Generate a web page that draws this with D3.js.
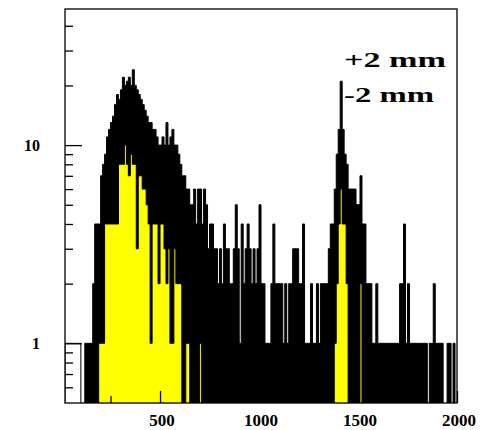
<!DOCTYPE html>
<html><head><meta charset="utf-8">
<script src="https://cdn.jsdelivr.net/npm/d3@7"></script>
<style>html,body{margin:0;padding:0;background:#fff;} svg{display:block;}</style>
</head><body>
<svg id="chart" width="492" height="430"></svg>
<script>
// ---- histogram binning (data) ----
const binLow = 20;
const binWidth = 10;
// black histogram counts, one per bin starting at binLow
const blackCounts = [
  0,0,0,0,0,0,0,0,0,0,
  1,1,1,1,2,4,4,4,7,8,
  9,11,12,13,14,16,18,17,19,22,
  20,21,22,20,24,20,19,18,17,16,
  15,14,13,13,12,12,11,10,10,11,
  10,13,10,11,12,10,10,9,8,7,
  7,6,6,5,5,6,4,6,6,4,
  6,5,3,4,4,3,3,2,3,2,
  4,3,3,2,2,3,5,3,1,4,
  2,3,4,3,2,3,2,3,5,2,
  2,1,1,1,2,4,2,2,2,2,
  1,2,1,2,2,3,3,3,2,2,
  4,1,1,1,2,1,1,2,1,2,
  2,2,2,3,4,4,6,9,12,21,
  12,9,8,6,6,6,6,5,5,7,
  4,4,2,2,2,1,1,2,1,1,
  1,1,1,1,1,1,1,1,1,2,
  2,4,1,2,1,1,1,1,1,1,
  1,1,1,0,1,1,2,1,1,1,
  1,0,0,1,1,0,1,0
];
// yellow histogram counts, same binning
const yellowCounts = [
  0,0,0,0,0,0,0,0,0,0,
  0,0,0,0,0,0,0,1,1,1,
  4,4,4,4,4,4,4,8,8,8,
  10,8,7,9,8,8,3,7,7,6,
  6,5,4,1,4,4,4,2,4,4,
  3,2,3,1,1,3,2,2,2,0,
  0,1,1,0,0,0,0,0,1,0,
  0,0,0,0,0,0,0,0,0,0,
  0,0,0,0,0,0,0,0,0,0,
  0,0,0,0,0,0,0,0,0,0,
  0,0,0,0,0,0,0,0,0,0,
  0,0,0,0,0,0,0,0,0,0,
  0,0,0,0,0,0,0,0,0,0,
  0,0,0,0,0,0,1,2,4,6,
  4,4,2,0,0,0,0,0,0,2,
  0,0,0,0,0,0,0,0,0,0,
  0,0,0,0,0,0,0,0,0,0,
  0,0,0,0,0,0,0,0,0,0,
  0,0,0,0,0,0,0,0,0,0,
  0,0,0,0,0,0,0,0
];
// hollow (unfilled) bin at the low edge
const hollowLow = [20];
const hollowHigh = [100];
const hollowCounts = [1];

const xDomain = [20, 2000];
const yDomain = [0.5, 48.6];
const xMajorTicks = [500, 1000, 1500, 2000];
const xMinorTicks = [250, 750, 1250, 1750];
const yMajorTicks = [1, 10];
const yMinorTicks = [0.6, 0.7, 0.8, 0.9, 2, 3, 4, 5, 6, 7, 8, 9, 20, 30, 40];
const legendLabels = ["+2 mm", "-2 mm"];

// ---- layout ----
const L = 65, R = 457, T = 9, B = 403;
const svg = d3.select("#chart");
const x = d3.scaleLinear().domain(xDomain).range([L, R]);
const y = d3.scaleLog().domain(yDomain).range([B, T]);
const yv = v => v > 0 ? y(v) : B + 2;

svg.append("defs").append("clipPath").attr("id", "plotclip")
  .append("rect").attr("x", L).attr("y", T).attr("width", R - L).attr("height", B - T);

function stepPoints(counts) {
  const pts = [[x(binLow), B + 2]];
  counts.forEach((c, i) => {
    const x0 = x(binLow + i * binWidth), x1 = x(binLow + (i + 1) * binWidth);
    pts.push([x0, yv(c)], [x1, yv(c)]);
  });
  pts.push([x(binLow + counts.length * binWidth), B + 2]);
  return pts;
}
const line = d3.line();
const g = svg.append("g").attr("clip-path", "url(#plotclip)");

// hollow bin
g.selectAll("rect.hollow").data(hollowCounts).enter().append("rect")
  .attr("x", (d, i) => x(hollowLow[i]))
  .attr("y", d => y(d))
  .attr("width", (d, i) => x(hollowHigh[i]) - x(hollowLow[i]))
  .attr("height", d => B + 2 - y(d))
  .attr("fill", "#fff").attr("stroke", "#000").attr("stroke-width", 1);

g.append("path").attr("d", line(stepPoints(blackCounts)) + "Z")
  .attr("fill", "#000").attr("stroke", "#000").attr("stroke-width", 1);
g.append("path").attr("d", line(stepPoints(yellowCounts)) + "Z")
  .attr("fill", "#ffff00").attr("stroke", "#000").attr("stroke-width", 1);

// frame
svg.append("rect").attr("x", L).attr("y", T).attr("width", R - L).attr("height", B - T)
  .attr("fill", "none").attr("stroke", "#000").attr("stroke-width", 1.3);

// y axis (log), ticks inside
const fontFam = "'Liberation Serif','DejaVu Serif',serif";
const yMaj = svg.append("g").attr("transform", `translate(${L},0)`)
  .call(d3.axisLeft(y).tickValues(yMajorTicks).tickFormat(d3.format("d")).tickSize(-17).tickPadding(25));
const yMin = svg.append("g").attr("transform", `translate(${L},0)`)
  .call(d3.axisLeft(y).tickValues(yMinorTicks).tickFormat("").tickSize(-8));
// x axis, ticks inside
const xMaj = svg.append("g").attr("transform", `translate(0,${B})`)
  .call(d3.axisBottom(x).tickValues(xMajorTicks).tickFormat(d3.format("d")).tickSize(-12).tickPadding(11));
const xMin = svg.append("g").attr("transform", `translate(0,${B})`)
  .call(d3.axisBottom(x).tickValues(xMinorTicks).tickFormat("").tickSize(-7));
[yMaj, yMin, xMaj, xMin].forEach(a => {
  a.select(".domain").remove();
  a.selectAll("line").attr("stroke", "#000").attr("stroke-width", 1.3);
});
yMaj.selectAll("text").attr("font-family", fontFam).attr("font-weight", "bold")
  .attr("font-size", 16).attr("fill", "#000");
xMaj.selectAll("text").attr("font-family", fontFam).attr("font-weight", "bold")
  .attr("font-size", 17).attr("fill", "#000").attr("dx", 1.5);

// legend text
const legendY = [67, 102];
const legendW = [102, 90];
svg.selectAll("text.leg").data(legendLabels).enter().append("text")
  .attr("class", "leg")
  .attr("x", 344).attr("y", (d, i) => legendY[i])
  .attr("font-family", fontFam).attr("font-weight", "bold").attr("font-size", 22)
  .attr("textLength", (d, i) => legendW[i]).attr("lengthAdjust", "spacingAndGlyphs")
  .attr("fill", "#000")
  .text(d => d);
</script>
</body></html>
